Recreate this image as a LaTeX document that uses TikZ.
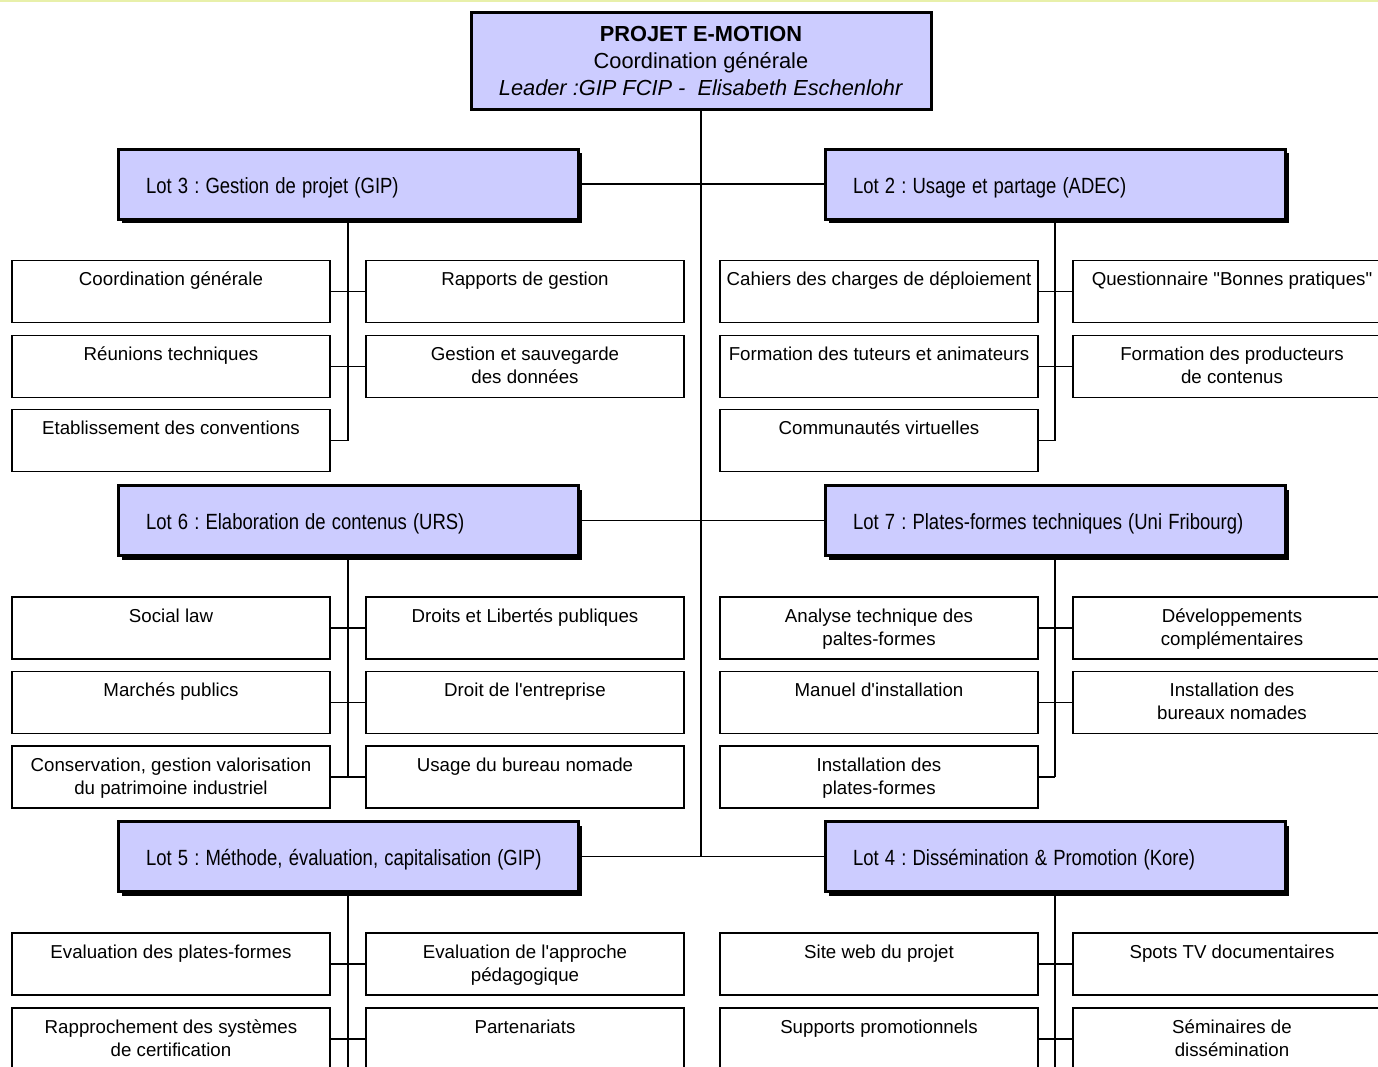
\documentclass[tikz,border=0pt]{standalone}
\usepackage{fontspec}
\setmainfont{Liberation Sans}[Ligatures=TeXOff]
\usepackage{graphicx}
\usepackage{tikz}
\usetikzlibrary{shadows,backgrounds}
\definecolor{lotLavande}{RGB}{204,204,255}
\definecolor{bandeauJaune}{RGB}{232,240,170}
\newcommand{\etroit}[1]{\scalebox{0.84}[1]{#1}}
\frenchspacing

\begin{document}
\begin{tikzpicture}[x=0.5pt, y=-0.5pt,
        projet/.style={draw, line width=1.5pt, fill=lotLavande, minimum width=230pt, minimum height=48.5pt, align=center, font=\fontsize{10.9}{13.5}\selectfont},
        lot/.style={draw, line width=1.5pt, fill=lotLavande, text width=202pt, text height=11pt, text depth=2pt, inner xsep=14pt, inner ysep=0pt, minimum height=35pt, align=left, font=\fontsize{11}{13}\selectfont, drop shadow={shadow xshift=2pt, shadow yshift=-2pt, fill=black, opacity=1}},
        tache/.style={draw, line width=0.7pt, fill=white, minimum width=159pt, minimum height=31pt, inner sep=0pt},
        tachetxt/.style={anchor=north, yshift=-6pt, inner sep=0pt, align=center, font=\fontsize{9.35}{11.5}\selectfont},
        lien/.style={line width=0.9pt},
      ]
        \useasboundingbox (0,0) rectangle (1378,1067);
        \clip (0,0) rectangle (1378,1067);
        \fill[bandeauJaune] (0,0) rectangle (1378,2);

        % projet
        \node[projet] (projet) at (701,60.5) {\textbf{PROJET E-MOTION}\\Coordination générale\\\textit{Leader :GIP FCIP -\ \ Elisabeth Eschenlohr}};

        % lots
        \node[lot] (lot3) at (348,184) {\etroit{Lot 3 : Gestion de projet (GIP)}};
        \node[lot] (lot2) at (1055,184) {\etroit{Lot 2 : Usage et partage (ADEC)}};
        \node[lot] (lot6) at (348,520.5) {\etroit{Lot 6 : Elaboration de contenus (URS)}};
        \node[lot] (lot7) at (1055,520.5) {\etroit{Lot 7 : Plates-formes techniques (Uni Fribourg)}};
        \node[lot] (lot5) at (348,856.5) {\etroit{Lot 5 : Méthode, évaluation, capitalisation (GIP)}};
        \node[lot] (lot4) at (1055,856.5) {\etroit{Lot 4 : Dissémination \& Promotion (Kore)}};

        % lot 3 -- taches
        \node[tache, label={[tachetxt]north:{Coordination générale}}] (t3a) at (171,291.5) {};
        \node[tache, label={[tachetxt]north:{Rapports de gestion}}] (t3b) at (525,291.5) {};
        \node[tache, label={[tachetxt]north:{Réunions techniques}}] (t3c) at (171,366.5) {};
        \node[tache, label={[tachetxt]north:{Gestion et sauvegarde\\des données}}] (t3d) at (525,366.5) {};
        \node[tache, label={[tachetxt]north:{Etablissement des conventions}}] (t3e) at (171,440.5) {};

        % lot 2 -- taches
        \node[tache, label={[tachetxt]north:{Cahiers des charges de déploiement}}] (t2a) at (879,291.5) {};
        \node[tache, label={[tachetxt]north:{Questionnaire "Bonnes pratiques"}}] (t2b) at (1232,291.5) {};
        \node[tache, label={[tachetxt]north:{Formation des tuteurs et animateurs}}] (t2c) at (879,366.5) {};
        \node[tache, label={[tachetxt]north:{Formation des producteurs\\de contenus}}] (t2d) at (1232,366.5) {};
        \node[tache, label={[tachetxt]north:{Communautés virtuelles}}] (t2e) at (879,440.5) {};

        % lot 6 -- taches
        \node[tache, label={[tachetxt]north:{Social law}}] (t6a) at (171,628) {};
        \node[tache, label={[tachetxt]north:{Droits et Libertés publiques}}] (t6b) at (525,628) {};
        \node[tache, label={[tachetxt]north:{Marchés publics}}] (t6c) at (171,702.5) {};
        \node[tache, label={[tachetxt]north:{Droit de l'entreprise}}] (t6d) at (525,702.5) {};
        \node[tache, label={[tachetxt]north:{Conservation, gestion valorisation\\du patrimoine industriel}}] (t6e) at (171,777) {};
        \node[tache, label={[tachetxt]north:{Usage du bureau nomade}}] (t6f) at (525,777) {};

        % lot 7 -- taches
        \node[tache, label={[tachetxt]north:{Analyse technique des\\paltes-formes}}] (t7a) at (879,628) {};
        \node[tache, label={[tachetxt]north:{Développements\\complémentaires}}] (t7b) at (1232,628) {};
        \node[tache, label={[tachetxt]north:{Manuel d'installation}}] (t7c) at (879,702.5) {};
        \node[tache, label={[tachetxt]north:{Installation des\\bureaux nomades}}] (t7d) at (1232,702.5) {};
        \node[tache, label={[tachetxt]north:{Installation des\\plates-formes}}] (t7e) at (879,777) {};

        % lot 5 -- taches
        \node[tache, label={[tachetxt]north:{Evaluation des plates-formes}}] (t5a) at (171,964) {};
        \node[tache, label={[tachetxt]north:{Evaluation de l'approche\\pédagogique}}] (t5b) at (525,964) {};
        \node[tache, label={[tachetxt]north:{Rapprochement des systèmes\\de certification}}] (t5c) at (171,1039) {};
        \node[tache, label={[tachetxt]north:{Partenariats}}] (t5d) at (525,1039) {};

        % lot 4 -- taches
        \node[tache, label={[tachetxt]north:{Site web du projet}}] (t4a) at (879,964) {};
        \node[tache, label={[tachetxt]north:{Spots TV documentaires}}] (t4b) at (1232,964) {};
        \node[tache, label={[tachetxt]north:{Supports promotionnels}}] (t4c) at (879,1039) {};
        \node[tache, label={[tachetxt]north:{Séminaires de\\dissémination}}] (t4d) at (1232,1039) {};

        \coordinate (bas) at (0,1070);

        % liens
        \begin{scope}[on background layer]
          \draw[lien] (projet.south) -- (projet.south |- lot5.east);
          \draw[lien] (lot3.east) -- (lot2.west);
          \draw[lien] (lot6.east) -- (lot7.west);
          \draw[lien] (lot5.east) -- (lot4.west);

          \draw[lien] (lot3.south) -- (lot3.south |- t3e.east);
          \draw[lien] (t3a.east) -- (t3b.west);
          \draw[lien] (t3c.east) -- (t3d.west);
          \draw[lien] (t3e.east) -- (lot3.south |- t3e.east);

          \draw[lien] (lot2.south) -- (lot2.south |- t2e.east);
          \draw[lien] (t2a.east) -- (t2b.west);
          \draw[lien] (t2c.east) -- (t2d.west);
          \draw[lien] (t2e.east) -- (lot2.south |- t2e.east);

          \draw[lien] (lot6.south) -- (lot6.south |- t6e.east);
          \draw[lien] (t6a.east) -- (t6b.west);
          \draw[lien] (t6c.east) -- (t6d.west);
          \draw[lien] (t6e.east) -- (t6f.west);

          \draw[lien] (lot7.south) -- (lot7.south |- t7e.east);
          \draw[lien] (t7a.east) -- (t7b.west);
          \draw[lien] (t7c.east) -- (t7d.west);
          \draw[lien] (t7e.east) -- (lot7.south |- t7e.east);

          \draw[lien] (lot5.south) -- (lot5.south |- bas);
          \draw[lien] (t5a.east) -- (t5b.west);
          \draw[lien] (t5c.east) -- (t5d.west);

          \draw[lien] (lot4.south) -- (lot4.south |- bas);
          \draw[lien] (t4a.east) -- (t4b.west);
          \draw[lien] (t4c.east) -- (t4d.west);
        \end{scope}
      \end{tikzpicture}
\end{document}
